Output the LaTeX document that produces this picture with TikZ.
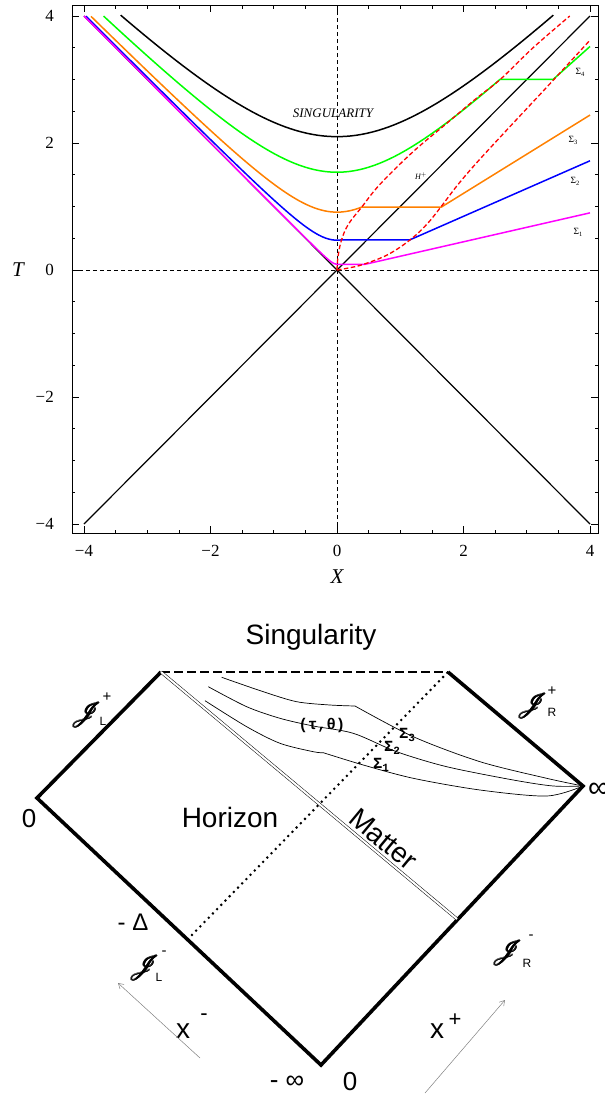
\documentclass[tikz,border=0pt]{standalone}
\usepackage{fontspec}
\setmainfont{Liberation Serif}
\newfontfamily\arial{Liberation Sans}
\newfontfamily\monob{Liberation Mono}
\usepackage{amsmath}
\usepackage{mathrsfs}
\usetikzlibrary{arrows.meta}
\definecolor{cmag}{rgb}{1,0,1}
\definecolor{cblue}{rgb}{0,0,1}
\definecolor{corange}{rgb}{1,0.5,0}
\definecolor{cgreen}{rgb}{0,1,0}
\definecolor{cred}{rgb}{1,0,0}
\newcommand{\myfs}[1]{\fontsize{#1}{#1}\selectfont}
\newcommand{\oneJ}{$\mathscr{J}$}
\newcommand{\scrJ}{\makebox[0pt][l]{\oneJ}\makebox[0pt][l]{\hspace{1.1pt}\oneJ}\makebox[0pt][l]{\hspace{0.55pt}\raisebox{0.7pt}{\oneJ}}\makebox[0pt][l]{\hspace{0.55pt}\raisebox{-0.7pt}{\oneJ}}\hspace{1.1pt}\oneJ}
\tikzset{
  curve/.style={line width=1.5pt},
  reddash/.style={cred, line width=1.3pt, dash pattern=on 4.5pt off 2.5pt},
  axisdash/.style={line width=0.6pt, dash pattern=on 4pt off 3pt},
  pedge/.style={line width=3.6pt},
  ticklab/.style={font=\myfs{17}, inner sep=0pt},
  sig/.style={font=\myfs{9.5}, inner sep=0pt},
  blab/.style={font=\arial\myfs{28}, inner sep=0pt},
  scr/.style={font=\myfs{23}, inner sep=0pt},
  supl/.style={font=\arial\myfs{15}, inner sep=0pt},
  subl/.style={font=\arial\myfs{12}, inner sep=0pt},
  sigb/.style={font=\monob\bfseries\myfs{15.5}, inner sep=0pt},
  garrow/.style={gray, line width=0.5pt, -{Straight Barb[length=5pt,width=6pt]}}
}
\begin{document}
\begin{tikzpicture}[x=1pt,y=-1pt]
\useasboundingbox (0,0) rectangle (605,1096);
% ================= top plot =================
\begin{scope}[shift={(337,270)}, x=63.25pt, y=63.5pt]
  \coordinate (O) at (0,0);
  \coordinate (fLB) at (-4.19,-4.142);
  \coordinate (fRT) at (4.127,4.173);
  \draw[axisdash] (-4.19,0) -- (4.127,0);
  \draw[axisdash] (0,-4.142) -- (0,4.173);
  \draw[line width=0.8pt] (fLB) rectangle (fRT);
  \foreach \v in {-4,-3.5,...,4}{
    \draw[line width=0.6pt] (\v,-4.142) -- ++(0,3.5pt);
    \draw[line width=0.6pt] (\v,4.173) -- ++(0,-3.5pt);
    \draw[line width=0.6pt] (-4.19,\v) -- ++(3.5pt,0);
    \draw[line width=0.6pt] (4.127,\v) -- ++(-3.5pt,0);
  }
  \foreach \v in {-4,-2,0,2,4}{
    \draw[line width=0.8pt] (\v,-4.142) -- ++(0,7pt);
    \draw[line width=0.8pt] (\v,4.173) -- ++(0,-7pt);
    \draw[line width=0.8pt] (-4.19,\v) -- ++(7pt,0);
    \draw[line width=0.8pt] (4.127,\v) -- ++(-7pt,0);
  }
  % light cone lines
  \draw[line width=1.2pt] (-4,-4) -- (4,4);
  \draw[line width=1.2pt] (-4,4) -- (4,-4);
  % singularity
  \draw[curve, black] plot[domain=-3.42:3.42, samples=80] (\x,{sqrt(\x*\x+4.41)});
  % Sigma surfaces
  \draw[curve, cgreen] plot[domain=-3.69:2.58, samples=80] (\x,{sqrt(\x*\x+2.37)}) -- (3.42,3.004) -- (4,3.52);
  \draw[curve, corange] plot[domain=-3.89:0.39, samples=80] (\x,{sqrt(\x*\x+0.83)}) -- (1.65,0.991) -- (4,2.44);
  \draw[curve, cblue] plot[domain=-3.97:0.07, samples=80] (\x,{sqrt(\x*\x+0.22)}) -- (1.15,0.474) -- (4,1.72);
  \draw[curve, cmag] plot[domain=-4:0, samples=80] (\x,{sqrt(\x*\x+0.008)}) -- (0.44,0.089) -- (4,0.90);
  % red dashed
  \draw[reddash] plot[smooth, tension=0.6] coordinates {(0,0) (0.015,0.2) (0.07,0.47) (0.18,0.72) (0.39,0.99) (0.68,1.35) (1.2,1.86) (1.7,2.28) (2.2,2.7) (2.58,3.0) (3.1,3.5) (3.68,4.0)};
  \draw[reddash] plot[smooth, tension=0.6] coordinates {(0,0) (0.2,0.035) (0.42,0.09) (0.8,0.24) (1.15,0.47) (1.42,0.72) (1.64,0.99) (1.9,1.33) (2.2,1.68) (2.68,2.2) (3.42,2.99) (4.0,3.62)};
\end{scope}
% tick labels
\foreach \v/\t in {-4/{−4},-2/{−2},0/0,2/2,4/4}{
  \node[ticklab, anchor=east] (yl\v) at (54,{270-63.5*\v}) {\t};
  \node[ticklab] (xl\v) at ({337+63.25*\v},551) {\t};
}
\node[font=\myfs{21}\itshape, inner sep=0pt] (Tlab) at (18,270) {T};
\node[font=\myfs{21}\itshape, inner sep=0pt] (Xlab) at (337,577) {X};
\node[font=\myfs{13}\itshape, inner sep=0pt] (singtop) at (333,113) {SINGULARITY};
\node[font=\myfs{8}\itshape, inner sep=0pt] (Hp) at (421,176) {H$^{+}$};
\node[sig] (s4) at (580,72) {Σ\raisebox{-2pt}{\myfs{6.5}4}};
\node[sig] (s3) at (573,140) {Σ\raisebox{-2pt}{\myfs{6.5}3}};
\node[sig] (s2) at (575,181) {Σ\raisebox{-2pt}{\myfs{6.5}2}};
\node[sig] (s1) at (578,232) {Σ\raisebox{-2pt}{\myfs{6.5}1}};
% ================= Penrose diagram =================
\coordinate (TL) at (161,672);
\coordinate (TR) at (448,672);
\coordinate (L) at (37,798);
\coordinate (R) at (583,786);
\coordinate (B) at (321,1065);
\coordinate (ME) at (457,919);
\coordinate (DE) at (188,939);
\draw[pedge] (TL) -- (L) -- (B) -- (R) -- (TR);
\draw[line width=2.5pt, dash pattern=on 9pt off 4pt] (TL) -- (TR);
\draw[line width=0.5pt, double, double distance=2pt] (TL) -- (ME);
\draw[line width=2pt, dash pattern=on 2pt off 4pt] (TR) -- (DE);
% Sigma curves
\draw[line width=0.7pt] plot[smooth] coordinates {(221.7,677.3) (263.3,691.7) (296.7,701.7) (330,705) (355,706)}
  -- plot[smooth] coordinates {(355,706) (413.3,736.7) (480,761.7) (546.7,778.3) (R)};
\draw[line width=0.7pt] plot[smooth] coordinates {(208.3,686.7) (246.7,706.7) (280,718.3) (313.3,726) (353.3,733.3) (396.7,751.7) (446.7,766.7) (513.3,780) (553.3,786) (R)};
\draw[line width=0.7pt] plot[smooth] coordinates {(205,700.7) (246.7,726.7) (280,743.3) (313.3,751.7) (323.3,752.7)}
  -- plot[smooth] coordinates {(323.3,752.7) (363.3,765) (413.3,778.3) (480,790) (546.7,796) (R)};
% labels
\node[blab] (singb) at (311,637) {Singularity};
\node[blab] (hor) at (230,817) {Horizon};
\node[blab, rotate=-39.75, anchor=base] (mat) at (377.5,846.5) {Matter};
\node[font=\arial\myfs{26}, inner sep=0pt] (zeroL) at (29,819) {0};
\node[font=\arial\myfs{30}, inner sep=0pt, anchor=west] (infR) at (588,790) {∞};
\node[font=\arial\myfs{24}, inner sep=0pt] (mDelta) at (133,922) {- Δ};
\node[font=\arial\myfs{26}, inner sep=0pt] (minf) at (287,1082) {- ∞};
\node[font=\arial\myfs{26}, inner sep=0pt] (zeroB) at (350,1082) {0};
\node[blab] (xm) at (183,1031) {x};
\node[font=\arial\myfs{22}, inner sep=0pt] (xmsup) at (204,1017) {-};
\node[blab] (xp) at (437,1031) {x};
\node[font=\arial\myfs{22}, inner sep=0pt] (xpsup) at (455,1020) {+};
% scri labels
\node[scr] (JLp) at (86,715) {\scrJ};
\node[supl] (JLps) at (107,697) {+};
\node[subl] (JLpl) at (103,721) {L};
\node[scr] (JRp) at (532,706) {\scrJ};
\node[supl] (JRps) at (552,691) {+};
\node[subl] (JRpl) at (552,712) {R};
\node[scr] (JLm) at (144,968) {\scrJ};
\node[supl] (JLms) at (164,953) {-};
\node[subl] (JLml) at (159,977) {L};
\node[scr] (JRm) at (507,953) {\scrJ};
\node[supl] (JRms) at (531,937) {-};
\node[subl] (JRml) at (527,963) {R};
% sigma labels
\node[sigb] (tt) at (322,725) {(τ,θ)};
\node[sigb] (b3) at (407,735) {Σ\raisebox{-3pt}{\myfs{11}3}};
\node[sigb] (b2) at (392,748) {Σ\raisebox{-3pt}{\myfs{11}2}};
\node[sigb] (b1) at (381,765) {Σ\raisebox{-3pt}{\myfs{11}1}};
% arrows
\coordinate (a1s) at (200,1058);
\coordinate (a1e) at (118,983);
\coordinate (a2s) at (425,1093);
\coordinate (a2e) at (505,1000);
\draw[garrow] (a1s) -- (a1e);
\draw[garrow] (a2s) -- (a2e);
\end{tikzpicture}
\end{document}
